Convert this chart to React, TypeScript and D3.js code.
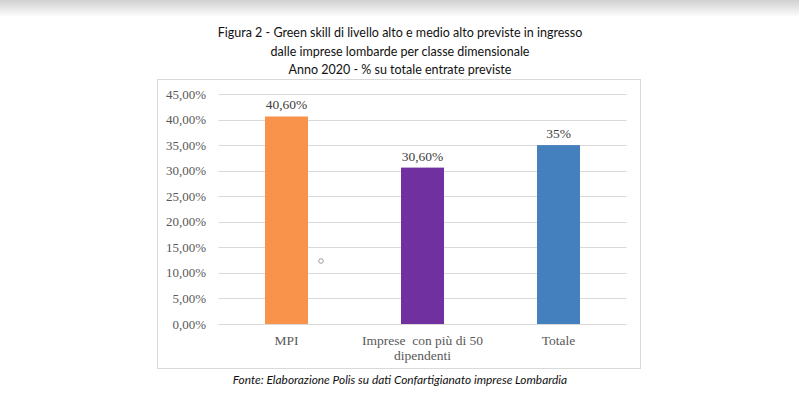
import * as d3 from 'd3';
import React from 'react';

const categories = ['MPI', 'Imprese  con più di 50|dipendenti', 'Totale'];
const values = [40.6, 30.6, 35];
const valueLabels = ['40,60%', '30,60%', '35%'];
const colors = ['#F9924A', '#7030A0', '#4580BE'];
const yTicks = [0, 5, 10, 15, 20, 25, 30, 35, 40, 45];
const titleLines = [
  'Figura 2 - Green skill di livello alto e medio alto previste in ingresso',
  'dalle imprese lombarde per classe dimensionale',
  'Anno 2020 - % su totale entrate previste',
];
const source = 'Fonte: Elaborazione Polis su dati Confartigianato imprese Lombardia';

const W = 799, H = 399;
const plot = { left: 218.5, right: 626.5, top: 94, bottom: 324 };

const App = () => {
  const x = d3.scaleBand<string>()
    .domain(categories)
    .range([plot.left, plot.right])
    .paddingInner(0.684)
    .paddingOuter(0.342);

  const y = d3.scaleLinear()
    .domain([0, 45])
    .range([plot.bottom, plot.top]);

  const serif = '"Liberation Serif", "DejaVu Serif", serif';
  const sans = 'Lato, "Open Sans", sans-serif';

  return (
    <svg width={W} height={H} style={{ position: 'absolute', left: 0, top: 0, background: '#fff' }}>
      <defs>
        <linearGradient id="topShade" x1="0" y1="0" x2="0" y2="1">
          <stop offset="0%" stopColor="#d0d0d0" />
          <stop offset="100%" stopColor="#ffffff" />
        </linearGradient>
      </defs>
      <rect x={0} y={0} width={W} height={17} fill="url(#topShade)" />

      {titleLines.map((t, i) => (
        <text key={i} x={400} y={37 + i * 18.5} textAnchor="middle" fontFamily={sans} fontSize={12.5} fill="#111">{t}</text>
      ))}

      {/* chart area border */}
      <rect x={157.5} y={79.5} width={483} height={289} fill="none" stroke="#d9d9d9" />

      {yTicks.map(t => (
        <g key={t}>
          <line x1={plot.left} x2={plot.right} y1={Math.round(y(t)) + 0.5} y2={Math.round(y(t)) + 0.5} stroke="#d9d9d9" />
          <text x={206} y={y(t) + 4.5} textAnchor="end" fontFamily={serif} fontSize={13} fill="#595959">{d3.format('.2f')(t).replace('.', ',')}%</text>
        </g>
      ))}

      {categories.map((c, i) => (
        <g key={c}>
          <rect x={x(c)} y={y(values[i])} width={x.bandwidth()} height={y(0) - y(values[i])} fill={colors[i]} />
          <text x={x(c)! + x.bandwidth() / 2} y={y(values[i]) - 7} textAnchor="middle" fontFamily={serif} fontSize={13.5} fill="#404040">{valueLabels[i]}</text>
          {c.split('|').map((line, j) => (
            <text key={j} x={x(c)! + x.bandwidth() / 2} y={345 + j * 15} textAnchor="middle" fontFamily={serif} fontSize={13.5} fill="#595959" style={{ whiteSpace: 'pre' }}>{line}</text>
          ))}
        </g>
      ))}

      <circle cx={321} cy={261} r={2.3} fill="none" stroke="#888" strokeWidth={0.8} />

      <text x={400} y={384} textAnchor="middle" fontFamily={sans} fontStyle="italic" fontSize={11.9} fill="#111">{source}</text>
    </svg>
  );
};

export default App;
